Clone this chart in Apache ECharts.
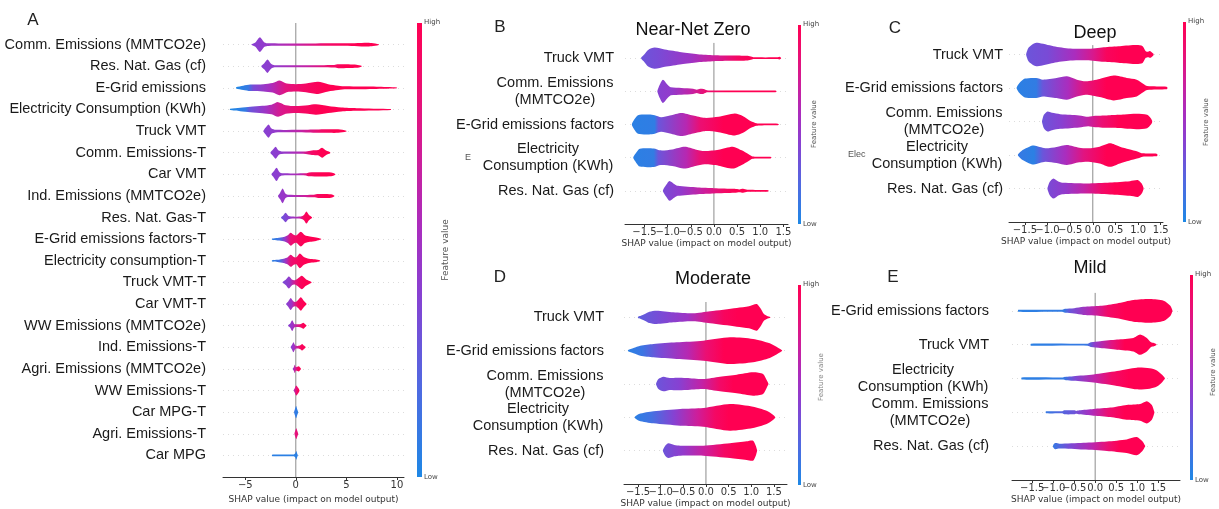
<!DOCTYPE html>
<html>
<head>
<meta charset="utf-8">
<script src="https://cdn.jsdelivr.net/npm/echarts@6/dist/echarts.min.js"></script>
<style>
  html, body { margin: 0; padding: 0; background: #fff; }
  #chart { width: 1219px; height: 509px; }
</style>
</head>
<body>
<div id="chart"></div>
<script>
// ---------------------------------------------------------------
// SHAP violin summaries. Each violin profile is a list of
// [shap value, half-width in row units]; each tone list is
// [shap value, normalised feature value 0..1] for the colour ramp.
// ---------------------------------------------------------------

// Panel A: all features
const featuresA = [
  'Comm. Emissions (MMTCO2e)', 'Res. Nat. Gas (cf)', 'E-Grid emissions',
  'Electricity Consumption (KWh)', 'Truck VMT', 'Comm. Emissions-T', 'Car VMT',
  'Ind. Emissions (MMTCO2e)', 'Res. Nat. Gas-T', 'E-Grid emissions factors-T',
  'Electricity consumption-T', 'Truck VMT-T', 'Car VMT-T', 'WW Emissions (MMTCO2e)',
  'Ind. Emissions-T', 'Agri. Emissions (MMTCO2e)', 'WW Emissions-T', 'Car MPG-T',
  'Agri. Emissions-T', 'Car MPG'
];
const shapesA = [
  [[-4.4,0.01],[-4.0,0.1],[-3.55,0.34],[-3.1,0.1],[-2.7,0.06],[0,0.055],[5.5,0.06],[6.8,0.09],[7.5,0.08],[8.2,0.02]],
  [[-3.4,0.02],[-3.1,0.15],[-2.8,0.31],[-2.45,0.12],[-2.1,0.05],[1,0.05],[3.8,0.06],[4.2,0.09],[6,0.07],[6.5,0.02]],
  [[-5.9,0.03],[-5.2,0.1],[-4.5,0.15],[-3.2,0.17],[-2.3,0.22],[-1.6,0.34],[-0.9,0.2],[0,0.17],[1,0.2],[2.2,0.28],[3.2,0.17],[4.2,0.1],[5,0.07],[8,0.05],[10,0.02]],
  [[-6.5,0.03],[-5.5,0.08],[-4.5,0.13],[-3.3,0.17],[-2.4,0.22],[-1.75,0.34],[-1,0.2],[0,0.16],[1.2,0.2],[2,0.24],[3.2,0.16],[4.5,0.09],[6,0.06],[9.4,0.02]],
  [[-3.2,0.02],[-3,0.15],[-2.7,0.31],[-2.4,0.12],[-2.0,0.06],[1,0.06],[3,0.08],[4.2,0.08],[5.0,0.02]],
  [[-2.5,0.02],[-2.3,0.12],[-2.0,0.28],[-1.7,0.1],[-1.4,0.06],[1,0.06],[1.6,0.1],[2.2,0.12],[2.6,0.23],[3.0,0.1],[3.4,0.02]],
  [[-2.4,0.02],[-2.2,0.13],[-1.9,0.31],[-1.6,0.1],[-1.3,0.05],[1.0,0.05],[1.3,0.09],[3.5,0.09],[3.9,0.02]],
  [[-1.75,0.02],[-1.55,0.15],[-1.3,0.34],[-1.05,0.12],[-0.8,0.05],[1.8,0.06],[2.2,0.09],[3.5,0.08],[3.8,0.02]],
  [[-1.45,0.02],[-1.25,0.1],[-1.0,0.22],[-0.75,0.08],[-0.5,0.05],[0.5,0.05],[0.8,0.12],[1.05,0.28],[1.3,0.12],[1.6,0.02]],
  [[-2.35,0.03],[-1.8,0.06],[-1.2,0.1],[-0.8,0.18],[-0.5,0.3],[-0.2,0.2],[0.05,0.17],[0.5,0.34],[0.9,0.18],[1.4,0.12],[2.0,0.08],[2.5,0.02]],
  [[-2.35,0.03],[-1.8,0.05],[-1.2,0.1],[-0.8,0.17],[-0.5,0.28],[-0.2,0.18],[0.05,0.16],[0.4,0.34],[0.8,0.18],[1.3,0.1],[1.9,0.07],[2.4,0.02]],
  [[-1.3,0.02],[-1.0,0.12],[-0.7,0.28],[-0.4,0.14],[-0.1,0.1],[0.2,0.18],[0.6,0.31],[1.0,0.15],[1.3,0.08],[1.55,0.02]],
  [[-0.95,0.02],[-0.75,0.12],[-0.5,0.28],[-0.25,0.13],[0,0.1],[0.25,0.2],[0.5,0.31],[0.8,0.14],[1.05,0.02]],
  [[-0.75,0.02],[-0.55,0.1],[-0.36,0.25],[-0.15,0.08],[0.1,0.06],[0.5,0.08],[0.75,0.14],[0.9,0.08],[1.05,0.02]],
  [[-0.5,0.02],[-0.38,0.1],[-0.23,0.23],[-0.05,0.08],[0.2,0.06],[0.45,0.09],[0.63,0.15],[0.8,0.08],[0.96,0.02]],
  [[-0.3,0.02],[-0.2,0.08],[-0.1,0.19],[0.0,0.08],[0.15,0.1],[0.3,0.12],[0.42,0.06],[0.5,0.02]],
  [[-0.2,0.02],[-0.1,0.1],[0.03,0.23],[0.15,0.18],[0.25,0.12],[0.36,0.02]],
  [[-0.17,0.02],[-0.08,0.15],[0.03,0.28],[0.13,0.15],[0.23,0.02]],
  [[-0.13,0.02],[-0.05,0.14],[0.05,0.25],[0.14,0.14],[0.23,0.02]],
  [[-2.35,0.03],[-2.2,0.045],[-0.2,0.045],[-0.05,0.1],[0.05,0.2],[0.15,0.06],[0.2,0.02]]
];
const tonesA = [
  [[-4.4,0.4],[-3,0.45],[0,0.65],[3,0.9],[6,1]],
  [[-3.4,0.4],[-2,0.45],[1,0.65],[3.5,0.9],[5,1]],
  [[-5.9,0],[-4.7,0.1],[-4.2,0.35],[-2.5,0.55],[-1,0.8],[1,0.92],[3,1]],
  [[-6.5,0],[-5,0.08],[-4.5,0.3],[-3,0.5],[-1.5,0.75],[0.5,0.92],[2.5,1]],
  [[-3.2,0.4],[-2,0.45],[0.5,0.65],[2.5,0.9],[4,1]],
  [[-2.5,0.4],[-1.3,0.45],[0.5,0.6],[1.5,0.9],[2.5,1]],
  [[-2.4,0.4],[-1.2,0.45],[0.5,0.6],[1.3,0.92],[2.5,1]],
  [[-1.75,0.45],[-0.7,0.5],[1,0.7],[2,0.92],[3,1]],
  [[-1.45,0.3],[-0.8,0.4],[0.3,0.6],[0.8,0.95],[1.6,1]],
  [[-2.35,0.05],[-1.6,0.15],[-1.0,0.5],[-0.5,0.85],[0.3,0.95],[1,1]],
  [[-2.35,0.05],[-1.6,0.15],[-1.0,0.5],[-0.5,0.85],[0.3,0.95],[1,1]],
  [[-1.3,0.35],[-0.6,0.45],[0,0.8],[0.4,0.95],[1,1]],
  [[-0.95,0.4],[-0.4,0.5],[0,0.8],[0.3,0.95],[0.8,1]],
  [[-0.75,0.4],[-0.3,0.5],[0.2,0.75],[0.6,0.95],[1,1]],
  [[-0.5,0.4],[-0.2,0.5],[0.2,0.75],[0.5,0.95],[1,1]],
  [[-0.3,0.45],[0,0.75],[0.2,0.95],[0.5,1]],
  [[-0.2,0.55],[0,0.8],[0.2,0.95],[0.36,1]],
  [[-0.17,0.1],[0.23,0.05]],
  [[-0.13,0.8],[0.23,0.85]],
  [[-2.35,0.05],[0.2,0.05]]
];
const ticksA = [-5, 0, 5, 10];

// Panel B: Near-Net Zero
const featuresB = ['Truck VMT', 'Comm. Emissions\n(MMTCO2e)', 'E-Grid emissions factors',
  'Electricity\nConsumption (KWh)', 'Res. Nat. Gas (cf)'];
const shapesB = [
  [[-1.57,0.02],[-1.5,0.12],[-1.42,0.25],[-1.28,0.32],[-1.06,0.26],[-0.7,0.18],[-0.35,0.12],[0,0.09],[0.37,0.08],[0.73,0.07],[0.82,0.04],[0.85,0.025],[1.38,0.025],[1.42,0.04],[1.45,0.01]],
  [[-1.22,0.02],[-1.17,0.2],[-1.1,0.35],[-1.0,0.2],[-0.93,0.12],[-0.7,0.1],[-0.45,0.08],[-0.37,0.05],[-0.3,0.08],[-0.22,0.07],[-0.15,0.03],[-0.1,0.025],[1.33,0.025],[1.35,0.01]],
  [[-1.77,0.02],[-1.72,0.15],[-1.64,0.28],[-1.4,0.3],[-1.28,0.28],[-1.14,0.22],[-0.95,0.27],[-0.7,0.35],[-0.45,0.27],[-0.2,0.2],[0.1,0.23],[0.45,0.33],[0.63,0.25],[0.8,0.1],[0.92,0.04],[1.0,0.03],[1.38,0.025],[1.4,0.01]],
  [[-1.74,0.02],[-1.68,0.15],[-1.6,0.27],[-1.3,0.28],[-1.15,0.22],[-0.9,0.25],[-0.63,0.33],[-0.4,0.25],[-0.2,0.2],[0.1,0.24],[0.41,0.33],[0.6,0.22],[0.75,0.1],[0.82,0.04],[0.9,0.025],[1.22,0.025],[1.24,0.01]],
  [[-1.1,0.02],[-1.03,0.18],[-0.96,0.3],[-0.85,0.2],[-0.78,0.15],[-0.35,0.1],[0,0.08],[0.45,0.06],[0.55,0.04],[0.63,0.06],[0.72,0.03],[1.15,0.025],[1.18,0.01]]
];
const tonesB = [
  [[-1.57,0.3],[-1.2,0.35],[-0.5,0.5],[0,0.7],[0.5,0.92],[0.9,1]],
  [[-1.22,0.4],[-0.9,0.45],[-0.5,0.65],[-0.2,0.85],[0.3,1]],
  [[-1.77,0.05],[-1.28,0.07],[-1.2,0.3],[-0.6,0.6],[-0.3,0.85],[0.2,1]],
  [[-1.74,0.05],[-1.3,0.08],[-1.2,0.3],[-0.6,0.6],[-0.3,0.85],[0.2,1]],
  [[-1.1,0.35],[-0.7,0.45],[-0.2,0.7],[0.2,0.9],[0.5,1]]
];

// Panel C: Deep
const featuresC = ['Truck VMT', 'E-Grid emissions factors', 'Comm. Emissions\n(MMTCO2e)',
  'Electricity\nConsumption (KWh)', 'Res. Nat. Gas (cf)'];
const shapesC = [
  [[-1.47,0.02],[-1.42,0.2],[-1.3,0.33],[-1.22,0.35],[-0.87,0.25],[-0.5,0.18],[-0.13,0.17],[0.24,0.22],[0.6,0.25],[0.97,0.28],[1.1,0.25],[1.17,0.1],[1.22,0.08],[1.27,0.1],[1.34,0.02]],
  [[-1.68,0.02],[-1.62,0.15],[-1.5,0.28],[-1.25,0.3],[-1.1,0.25],[-0.8,0.3],[-0.57,0.35],[-0.35,0.25],[-0.15,0.2],[0.15,0.27],[0.46,0.37],[0.75,0.3],[0.97,0.25],[1.12,0.12],[1.2,0.06],[1.63,0.04],[1.65,0.01]],
  [[-1.12,0.02],[-1.08,0.2],[-1.0,0.3],[-0.9,0.26],[-0.72,0.22],[-0.5,0.2],[-0.3,0.18],[-0.1,0.14],[0.05,0.17],[0.38,0.19],[0.7,0.21],[0.97,0.23],[1.2,0.2],[1.28,0.1],[1.31,0.02]],
  [[-1.65,0.02],[-1.55,0.15],[-1.4,0.25],[-1.3,0.28],[-1.05,0.2],[-0.8,0.24],[-0.57,0.3],[-0.3,0.22],[-0.1,0.2],[0.15,0.25],[0.38,0.35],[0.6,0.25],[0.8,0.17],[1.0,0.1],[1.1,0.05],[1.41,0.04],[1.43,0.01]],
  [[-1.0,0.02],[-0.95,0.2],[-0.87,0.3],[-0.75,0.2],[-0.65,0.17],[-0.13,0.15],[0.38,0.18],[0.82,0.22],[1.0,0.25],[1.08,0.15],[1.12,0.02]]
];
const tonesC = [
  [[-1.47,0.3],[-1.0,0.35],[-0.4,0.55],[0,0.75],[0.3,0.95],[0.6,1]],
  [[-1.68,0.05],[-1.25,0.08],[-1.1,0.3],[-0.55,0.55],[-0.2,0.8],[0.3,1]],
  [[-1.12,0.3],[-0.7,0.4],[-0.2,0.6],[0.2,0.85],[0.6,1]],
  [[-1.65,0.1],[-1.3,0.05],[-1.1,0.3],[-0.6,0.55],[-0.2,0.8],[0.3,1]],
  [[-1.0,0.35],[-0.6,0.45],[-0.2,0.65],[0.2,0.9],[0.5,1]]
];

// Panel D: Moderate
const featuresD = ['Truck VMT', 'E-Grid emissions factors', 'Comm. Emissions\n(MMTCO2e)',
  'Electricity\nConsumption (KWh)', 'Res. Nat. Gas (cf)'];
const shapesD = [
  [[-1.5,0.02],[-1.45,0.04],[-1.35,0.1],[-1.25,0.17],[-1.09,0.2],[-0.72,0.15],[-0.28,0.12],[0.09,0.18],[0.68,0.28],[0.95,0.33],[1.12,0.4],[1.2,0.28],[1.28,0.1],[1.35,0.04],[1.42,0.01]],
  [[-1.72,0.02],[-1.6,0.08],[-1.45,0.15],[-1.16,0.2],[-0.65,0.25],[-0.06,0.3],[0.53,0.4],[1.04,0.35],[1.41,0.22],[1.6,0.08],[1.68,0.01]],
  [[-1.1,0.02],[-1.05,0.15],[-0.94,0.22],[-0.8,0.18],[-0.65,0.19],[-0.43,0.18],[-0.06,0.15],[0.31,0.22],[0.68,0.28],[1.04,0.35],[1.26,0.3],[1.34,0.12],[1.38,0.01]],
  [[-1.57,0.02],[-1.48,0.1],[-1.16,0.18],[-0.57,0.25],[-0.06,0.28],[0.53,0.4],[1.04,0.32],[1.34,0.2],[1.48,0.08],[1.53,0.01]],
  [[-0.95,0.02],[-0.9,0.15],[-0.83,0.22],[-0.7,0.17],[-0.57,0.15],[-0.06,0.15],[0.53,0.22],[0.9,0.28],[1.04,0.3],[1.1,0.15],[1.13,0.01]]
];
const tonesD = [
  [[-1.5,0.25],[-1.0,0.35],[-0.4,0.5],[0,0.75],[0.4,0.95],[0.7,1]],
  [[-1.72,0.05],[-1.4,0.12],[-1.0,0.35],[-0.4,0.6],[0,0.85],[0.4,1]],
  [[-1.1,0.3],[-0.6,0.4],[-0.1,0.65],[0.3,0.9],[0.6,1]],
  [[-1.57,0.05],[-1.2,0.15],[-0.7,0.4],[-0.2,0.7],[0.2,0.92],[0.5,1]],
  [[-0.95,0.3],[-0.5,0.45],[0,0.7],[0.4,0.92],[0.7,1]]
];

// Panel E: Mild
const featuresE = ['E-Grid emissions factors', 'Truck VMT', 'Electricity\nConsumption (KWh)',
  'Comm. Emissions\n(MMTCO2e)', 'Res. Nat. Gas (cf)'];
const shapesE = [
  [[-1.83,0.03],[-0.78,0.03],[-0.72,0.06],[-0.5,0.08],[-0.28,0.12],[0.12,0.15],[0.52,0.22],[0.91,0.32],[1.31,0.35],[1.63,0.3],[1.79,0.15],[1.84,0.01]],
  [[-1.53,0.03],[-0.18,0.03],[-0.1,0.07],[0.12,0.1],[0.52,0.15],[0.91,0.2],[1.07,0.3],[1.23,0.2],[1.33,0.07],[1.4,0.05],[1.46,0.01]],
  [[-1.75,0.03],[-0.77,0.03],[-0.7,0.05],[-0.52,0.07],[-0.04,0.12],[0.52,0.22],[0.99,0.32],[1.3,0.3],[1.47,0.24],[1.6,0.1],[1.66,0.01]],
  [[-1.17,0.03],[-0.78,0.03],[-0.74,0.06],[-0.5,0.06],[-0.45,0.04],[-0.38,0.06],[-0.04,0.1],[0.36,0.14],[0.75,0.22],[1.07,0.25],[1.23,0.33],[1.35,0.22],[1.41,0.01]],
  [[-1.0,0.03],[-0.95,0.09],[-0.85,0.07],[-0.28,0.1],[0.28,0.14],[0.75,0.2],[0.99,0.27],[1.12,0.15],[1.19,0.01]]
];
const tonesE = [
  [[-1.83,0.05],[-0.75,0.08],[-0.6,0.3],[-0.1,0.6],[0.3,0.9],[0.7,1]],
  [[-1.53,0.05],[-0.2,0.1],[0,0.45],[0.4,0.8],[0.7,1]],
  [[-1.75,0.05],[-0.75,0.08],[-0.5,0.35],[0,0.65],[0.4,0.9],[0.8,1]],
  [[-1.17,0.1],[-0.5,0.3],[-0.1,0.55],[0.3,0.85],[0.7,1]],
  [[-1.0,0.1],[-0.6,0.35],[-0.1,0.6],[0.3,0.85],[0.6,1]]
];
// half-step ticks of the small panels, split over two overlaid axes so
// the tightly packed labels do not suppress each other
const ticksSmallHalf = [-1.5, -0.5, 0.5, 1.5];
const ticksSmallWhole = [-1.0, 0.0, 1.0];

// ---------------------------------------------------------------
// Colour ramp: low feature value (blue) -> high (red)
// ---------------------------------------------------------------
const RAMP = [
  [0.00, [30, 136, 229]],
  [0.20, [80, 105, 225]],
  [0.40, [135, 65, 210]],
  [0.55, [170, 45, 190]],
  [0.70, [205, 30, 155]],
  [0.85, [235, 15, 115]],
  [1.00, [255, 0, 82]]
];
function cmap(t) {
  t = Math.max(0, Math.min(1, t));
  for (let k = 1; k < RAMP.length; k++) {
    if (t <= RAMP[k][0]) {
      const [t0, c0] = RAMP[k - 1], [t1, c1] = RAMP[k];
      const f = (t - t0) / (t1 - t0);
      const c = c0.map((v, j) => Math.round(v + (c1[j] - v) * f));
      return 'rgb(' + c.join(',') + ')';
    }
  }
  return 'rgb(255,0,82)';
}

const LABEL_FONT = '"Liberation Sans", Arial, sans-serif';
const TICK_FONT = '"DejaVu Sans", sans-serif';
const LABEL_SIZE = 14.5;

const measureCtx = document.createElement('canvas').getContext('2d');
function textWidth(s) {
  measureCtx.font = LABEL_SIZE + 'px ' + LABEL_FONT;
  return Math.ceil(measureCtx.measureText(s).width) + 1;
}

const panels = [
  { features: featuresA, shapes: shapesA, tones: tonesA, ticks: ticksA, ticks2: null, dec: 0,
    grid: { left: 223, top: 23, width: 181, height: 454 }, xMin: -7.2, xMax: 10.7,
    zeroTop: -1, labelMargin: 17 },
  { features: featuresB, shapes: shapesB, tones: tonesB, ticks: ticksSmallHalf, ticks2: ticksSmallWhole, dec: 1,
    grid: { left: 625, top: 25, width: 163, height: 199 }, xMin: -1.92, xMax: 1.6,
    zeroTop: -0.46, labelMargin: 11 },
  { features: featuresC, shapes: shapesC, tones: tonesC, ticks: ticksSmallHalf, ticks2: ticksSmallWhole, dec: 1,
    grid: { left: 1009, top: 21, width: 154, height: 201 }, xMin: -1.85, xMax: 1.55,
    zeroTop: -0.28, labelMargin: 6 },
  { features: featuresD, shapes: shapesD, tones: tonesD, ticks: ticksSmallHalf, ticks2: ticksSmallWhole, dec: 1,
    grid: { left: 624, top: 284, width: 163, height: 201 }, xMin: -1.81, xMax: 1.79,
    zeroTop: -0.46, labelMargin: 20 },
  { features: featuresE, shapes: shapesE, tones: tonesE, ticks: ticksSmallHalf, ticks2: ticksSmallWhole, dec: 1,
    grid: { left: 1012, top: 277, width: 168, height: 203 }, xMin: -1.98, xMax: 2.02,
    zeroTop: -0.53, labelMargin: 23 }
];

function tickText(v, dec) {
  const s = Math.abs(v).toFixed(dec);
  return (v < 0 ? '\u2212' : '') + s;
}

function yLabelSetup(features) {
  const rich = {};
  const fmt = [];
  features.forEach((lab, i) => {
    if (lab.indexOf('\n') >= 0) {
      const lines = lab.split('\n');
      const w = Math.max.apply(null, lines.map(textWidth));
      rich['m' + i] = { width: w, align: 'center', fontSize: LABEL_SIZE,
        fontFamily: LABEL_FONT, color: '#1a1a1a', lineHeight: 17 };
      fmt.push(lines.map(l => '{m' + i + '|' + l + '}').join('\n'));
    } else {
      fmt.push(lab);
    }
  });
  return { rich, fmt };
}

function makeRender(panel) {
  return function (params, api) {
    const i = api.value(1);
    const prof = panel.shapes[i];
    const tone = panel.tones[i];
    const top = [], bot = [];
    prof.forEach(p => {
      top.push(api.coord([p[0], i - p[1]]));
      bot.push(api.coord([p[0], i + p[1]]));
    });
    const pts = top.concat(bot.reverse());
    const xa = prof[0][0], xb = prof[prof.length - 1][0];
    const px0 = api.coord([xa, i])[0], px1 = api.coord([xb, i])[0];
    const stops = tone.map(s => ({
      offset: Math.max(0, Math.min(1, (s[0] - xa) / (xb - xa))),
      color: cmap(s[1])
    }));
    return {
      type: 'polygon',
      shape: { points: pts, smooth: 0.25 },
      style: { fill: new echarts.graphic.LinearGradient(px0, 0, px1, 0, stops, true) }
    };
  };
}

function xAxisFor(p, k, values, primary) {
  return {
    type: 'value', gridIndex: k, min: p.xMin, max: p.xMax, position: 'bottom', offset: 0,
    axisLine: { show: primary, onZero: false, lineStyle: { color: '#333', width: 1 } },
    axisTick: { show: true, length: 3, lineStyle: { color: '#333' }, customValues: values },
    axisLabel: { customValues: values, margin: 3, fontSize: 10, fontFamily: TICK_FONT,
      color: '#333', showMinLabel: true, showMaxLabel: true,
      formatter: v => tickText(v, p.dec) },
    splitLine: { show: false },
    name: primary ? 'SHAP value (impact on model output)' : '',
    nameLocation: 'middle', nameGap: 15,
    nameTextStyle: { fontSize: 9, fontFamily: TICK_FONT, color: '#333' }
  };
}

const grids = [], xAxes = [], yAxes = [], series = [];
panels.forEach((p, k) => {
  grids.push(Object.assign({ containLabel: false }, p.grid));
  xAxes.push(xAxisFor(p, k, p.ticks, true));
  const yl = yLabelSetup(p.features);
  yAxes.push({
    type: 'value', gridIndex: k, inverse: true, min: -1, max: p.features.length, interval: 1,
    axisLine: { show: false }, axisTick: { show: false },
    // faint dotted guide under every feature row
    splitLine: { show: true, showMinLine: false, showMaxLine: false,
      lineStyle: { color: '#dcdcdc', width: 1, type: [1, 4] } },
    axisLabel: {
      margin: p.labelMargin, fontSize: LABEL_SIZE, fontFamily: LABEL_FONT, color: '#1a1a1a',
      lineHeight: 17, rich: yl.rich,
      formatter: v => (v >= 0 && v < p.features.length && Number.isInteger(v)) ? yl.fmt[v] : ''
    }
  });
  series.push({
    type: 'line', xAxisIndex: k, yAxisIndex: k, z: 1, silent: true,
    symbol: 'none', data: [[0, p.zeroTop], [0, p.features.length]],
    lineStyle: { color: '#8c8c8c', width: 1 }
  });
  series.push({
    type: 'custom', xAxisIndex: k, yAxisIndex: k, z: 3, clip: false, silent: true,
    data: p.features.map((_, i) => [0, i]),
    renderItem: makeRender(p)
  });
});
// companion axes carrying the whole-number ticks of the small panels
panels.forEach((p, k) => {
  if (p.ticks2) xAxes.push(xAxisFor(p, k, p.ticks2, false));
});

// Colour bars with High / Low and the rotated caption
function colorBar(x, y0, y1, w, capX, capY, capSize, capColor) {
  const stops = RAMP.slice().reverse().map(r => ({ offset: 1 - r[0], color: cmap(r[0]) }));
  return [
    { type: 'rect', shape: { x: x, y: y0, width: w, height: y1 - y0 },
      style: { fill: new echarts.graphic.LinearGradient(0, 0, 0, 1, stops) } },
    { type: 'text', x: x + w + 2, y: y0 - 1,
      style: { text: 'High', fontSize: 7, fontFamily: TICK_FONT, fill: '#444', verticalAlign: 'middle' } },
    { type: 'text', x: x + w + 2, y: y1,
      style: { text: 'Low', fontSize: 7, fontFamily: TICK_FONT, fill: '#444', verticalAlign: 'middle' } },
    { type: 'text', x: capX, y: capY, rotation: Math.PI / 2,
      style: { text: 'Feature value', fontSize: capSize, fontFamily: TICK_FONT, fill: capColor,
        align: 'center', verticalAlign: 'middle' } }
  ];
}

function word(text, x, y, size, color, align) {
  return { type: 'text', x: x, y: y,
    style: { text: text, fontSize: size, fontFamily: LABEL_FONT, fill: color,
      align: align || 'center', verticalAlign: 'middle' } };
}

const graphics = [].concat(
  colorBar(417, 23, 477, 5, 446, 250, 9, '#555'),
  colorBar(798, 25, 224, 3, 814, 124, 7, '#555'),
  colorBar(1183, 22, 222, 3, 1206, 122, 7, '#555'),
  colorBar(798, 285, 485, 3, 821, 377, 7, '#888'),
  colorBar(1190, 275, 480, 3, 1213, 372, 7, '#555'),
  [
    word('A', 33, 20, 17, '#222'),
    word('B', 500, 27, 17, '#222'),
    word('C', 895, 28, 17, '#222'),
    word('D', 500, 277, 17, '#222'),
    word('E', 893, 277, 17, '#222'),
    word('Near-Net Zero', 693, 30, 18, '#111'),
    word('Deep', 1095, 33, 18, '#111'),
    word('Moderate', 713, 279, 18, '#111'),
    word('Mild', 1090, 268, 18, '#111'),
    word('E', 465, 158, 9, '#555', 'left'),
    word('Elec', 848, 155, 9, '#555', 'left')
  ]
);

const chart = echarts.init(document.getElementById('chart'), null, { renderer: 'canvas' });
chart.setOption({
  animation: false,
  backgroundColor: '#fff',
  grid: grids,
  xAxis: xAxes,
  yAxis: yAxes,
  series: series,
  graphic: graphics
});
</script>
</body>
</html>
